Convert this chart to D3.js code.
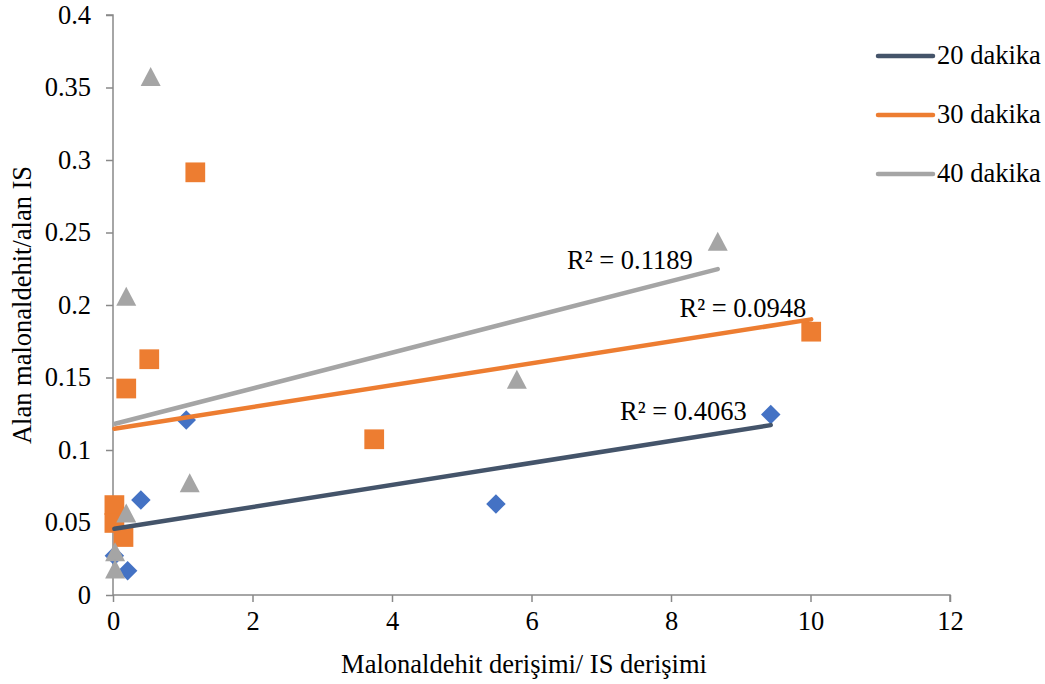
<!DOCTYPE html>
<html>
<head>
<meta charset="utf-8">
<script src="https://cdn.jsdelivr.net/npm/d3@7"></script>
<style>
  html, body { margin: 0; padding: 0; background: #ffffff; }
  svg { display: block; font-family: "Liberation Serif", "Times New Roman", serif; }
</style>
</head>
<body>
<svg id="chart" width="1045" height="684"></svg>
<script>
// ---- data ----
const seriesNames = ["20 dakika", "30 dakika", "40 dakika"];

const x20 = [1.05, 0.40, 5.49, 9.43, 0.21, 0.02];
const y20 = [0.1207, 0.0655, 0.0628, 0.1245, 0.0168, 0.027];

const x30 = [1.18, 0.52, 0.19, 3.745, 10.01, 0.02, 0.02, 0.15];
const y30 = [0.2915, 0.1626, 0.1424, 0.1074, 0.1816, 0.062, 0.0497, 0.040];

const x40 = [0.54, 0.19, 5.79, 8.67, 1.10, 0.19, 0.03, 0.03];
const y40 = [0.3576, 0.206, 0.1488, 0.244, 0.0774, 0.0566, 0.0299, 0.018];

// linear trendlines (intercept, slope) and R² labels as read
const trendIntercept = [0.0455, 0.1145, 0.1177];
const trendSlope = [0.0076, 0.00755, 0.01235];
const r2Labels = ["R² = 0.4063", "R² = 0.0948", "R² = 0.1189"];

const xTicks = [0, 2, 4, 6, 8, 10, 12];
const yTicks = [0, 0.05, 0.1, 0.15, 0.2, 0.25, 0.3, 0.35, 0.4];
const xTitle = "Malonaldehit derişimi/ IS derişimi";
const yTitle = "Alan malonaldehit/alan IS";

// ---- layout / style ----
const markerColors = ["#4472C4", "#ED7D31", "#A5A5A5"];
const trendColors = ["#44546A", "#ED7D31", "#A5A5A5"];
const axisColor = "#898989";
const fontSize = 26.5;
const labelOffsets = [[-24, -5], [-5, -2], [-25, 0]];

const svg = d3.select("#chart");
const x = d3.scaleLinear().domain([0, 12]).range([113, 950]);
const y = d3.scaleLinear().domain([0, 0.4]).range([595, 15]);

const fmt = d => String(+d.toFixed(2));

// axes
const yAxis = svg.append("g").attr("transform", `translate(${x(0)},0)`)
  .call(d3.axisLeft(y).tickValues(yTicks).tickFormat(fmt).tickSize(7).tickPadding(15));
const xAxis = svg.append("g").attr("transform", `translate(0,${y(0)})`)
  .call(d3.axisBottom(x).tickValues(xTicks).tickFormat(fmt).tickSize(7).tickPadding(9));
[xAxis, yAxis].forEach(g => {
  g.select(".domain").attr("stroke", axisColor).attr("stroke-width", 1.5);
  g.selectAll(".tick line").attr("stroke", axisColor).attr("stroke-width", 1.5);
  g.selectAll(".tick text")
    .attr("fill", "#000")
    .style("font-family", '"Liberation Serif", "Times New Roman", serif')
    .style("font-size", fontSize + "px");
});
yAxis.select(".domain").attr("d", `M-7,${y(0.4)}H0V${y(0)}`);
xAxis.select(".domain").attr("d", `M${x(0)},0H${x(12)}V7`);
xAxis.selectAll(".tick text").attr("dy", "0.71em");

// markers
const data = [
  x20.map((v, i) => ({x: v, y: y20[i]})),
  x30.map((v, i) => ({x: v, y: y30[i]})),
  x40.map((v, i) => ({x: v, y: y40[i]}))
];
const diamond = d3.symbol().type(d3.symbolSquare).size(190);
const square = d3.symbol().type(d3.symbolSquare).size(390);
const triPath = "M0,-9.5L10,9.5L-10,9.5Z";

// diamonds
svg.append("g").selectAll("path").data(data[0]).join("path")
  .attr("d", diamond())
  .attr("transform", d => `translate(${x(d.x)},${y(d.y)}) rotate(45)`)
  .attr("fill", markerColors[0]);
// squares
svg.append("g").selectAll("path").data(data[1]).join("path")
  .attr("d", square())
  .attr("transform", d => `translate(${x(d.x)},${y(d.y)})`)
  .attr("fill", markerColors[1]);
// triangles
svg.append("g").selectAll("path").data(data[2]).join("path")
  .attr("d", triPath)
  .attr("transform", d => `translate(${x(d.x)},${y(d.y)})`)
  .attr("fill", markerColors[2]);

// trendlines
data.forEach((pts, i) => {
  const [x0, x1] = d3.extent(pts, d => d.x);
  const f = v => trendIntercept[i] + trendSlope[i] * v;
  svg.append("line")
    .attr("x1", x(x0)).attr("y1", y(f(x0)))
    .attr("x2", x(x1)).attr("y2", y(f(x1)))
    .attr("stroke", trendColors[i]).attr("stroke-width", 4.5)
    .attr("stroke-linecap", "round");
  svg.append("text")
    .attr("x", x(x1) + labelOffsets[i][0])
    .attr("y", y(f(x1)) + labelOffsets[i][1])
    .attr("text-anchor", "end")
    .style("font-size", fontSize + "px")
    .attr("fill", "#000")
    .text(r2Labels[i]);
});

// axis titles
svg.append("text")
  .attr("x", 524).attr("y", 673)
  .attr("text-anchor", "middle")
  .style("font-size", fontSize + "px")
  .text(xTitle);
svg.append("text")
  .attr("transform", `translate(31,${(y(0) + y(0.4)) / 2}) rotate(-90)`)
  .attr("text-anchor", "middle")
  .style("font-size", fontSize + "px")
  .text(yTitle);

// legend
const legend = svg.append("g").selectAll("g").data(seriesNames).join("g")
  .attr("transform", (d, i) => `translate(878,${56 + i * 59})`);
legend.append("line")
  .attr("x1", 0).attr("x2", 55).attr("y1", 0).attr("y2", 0)
  .attr("stroke", (d, i) => trendColors[i]).attr("stroke-width", 4.5)
  .attr("stroke-linecap", "round");
legend.append("text")
  .attr("x", 59).attr("y", 8)
  .style("font-size", fontSize + "px")
  .text(d => d);
</script>
</body>
</html>
